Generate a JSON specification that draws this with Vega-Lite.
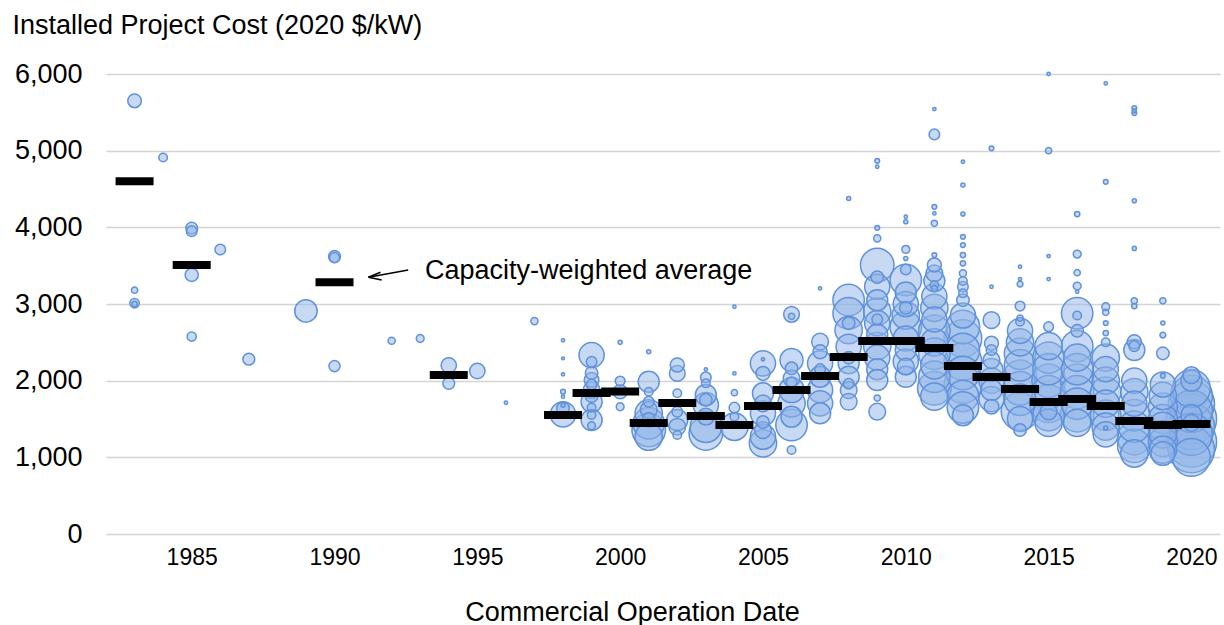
{
"$schema": "https://vega.github.io/schema/vega-lite/v6.json",
"width": 1114,
"height": 460,
"autosize": "none",
"padding": {"left": 106, "top": 74, "right": 4, "bottom": 91},
"background": "white",
"config": {"view": {"stroke": null}, "font": "Liberation Sans"},
"datasets": {
"projects": [
{"year":1983,"cost":5650,"mw":33},{"year":1983,"cost":3180,"mw":7},{"year":1983,"cost":3010,"mw":16},{"year":1983,"cost":3000,"mw":5},
{"year":1984,"cost":4910,"mw":13},
{"year":1985,"cost":3990,"mw":24},{"year":1985,"cost":3950,"mw":20},{"year":1985,"cost":3380,"mw":31},{"year":1985,"cost":2575,"mw":15},
{"year":1986,"cost":3710,"mw":20},
{"year":1987,"cost":2280,"mw":25},
{"year":1989,"cost":2910,"mw":90},
{"year":1990,"cost":3620,"mw":25},{"year":1990,"cost":3605,"mw":18},{"year":1990,"cost":2190,"mw":22},
{"year":1992,"cost":2520,"mw":9},
{"year":1993,"cost":2550,"mw":11},
{"year":1994,"cost":2200,"mw":42},{"year":1994,"cost":1965,"mw":25},
{"year":1995,"cost":2126,"mw":42},
{"year":1996,"cost":1712,"mw":2},
{"year":1997,"cost":2777,"mw":9},
{"year":1998,"cost":2526,"mw":2},{"year":1998,"cost":2291,"mw":1.5},{"year":1998,"cost":2083,"mw":2},{"year":1998,"cost":1856,"mw":4},{"year":1998,"cost":1791,"mw":2},{"year":1998,"cost":1680,"mw":3},{"year":1998,"cost":1640,"mw":28},{"year":1998,"cost":1560,"mw":113},
{"year":1999,"cost":2334,"mw":113},{"year":1999,"cost":2247,"mw":20},{"year":1999,"cost":2100,"mw":28},{"year":1999,"cost":2010,"mw":38},{"year":1999,"cost":1950,"mw":20},{"year":1999,"cost":1878,"mw":50},{"year":1999,"cost":1800,"mw":28},{"year":1999,"cost":1725,"mw":79},{"year":1999,"cost":1650,"mw":13},{"year":1999,"cost":1552,"mw":13},{"year":1999,"cost":1487,"mw":79},{"year":1999,"cost":1412,"mw":11},
{"year":2000,"cost":2500,"mw":3},{"year":2000,"cost":1995,"mw":17},{"year":2000,"cost":1856,"mw":35},{"year":2000,"cost":1660,"mw":11},
{"year":2001,"cost":2377,"mw":3},{"year":2001,"cost":1986,"mw":79},{"year":2001,"cost":1856,"mw":13},{"year":2001,"cost":1725,"mw":20},{"year":2001,"cost":1620,"mw":50},{"year":2001,"cost":1574,"mw":133},{"year":2001,"cost":1500,"mw":28},{"year":2001,"cost":1444,"mw":177},{"year":2001,"cost":1356,"mw":201},{"year":2001,"cost":1269,"mw":133},
{"year":2002,"cost":2204,"mw":35},{"year":2002,"cost":2095,"mw":44},{"year":2002,"cost":1835,"mw":13},{"year":2002,"cost":1595,"mw":20},{"year":2002,"cost":1487,"mw":79},{"year":2002,"cost":1399,"mw":50},{"year":2002,"cost":1291,"mw":13},
{"year":2003,"cost":2148,"mw":2},{"year":2003,"cost":2043,"mw":20},{"year":2003,"cost":1965,"mw":13},{"year":2003,"cost":1813,"mw":79},{"year":2003,"cost":1750,"mw":28},{"year":2003,"cost":1682,"mw":113},{"year":2003,"cost":1530,"mw":50},{"year":2003,"cost":1399,"mw":177},{"year":2003,"cost":1312,"mw":201},
{"year":2004,"cost":2964,"mw":2},{"year":2004,"cost":2095,"mw":2},{"year":2004,"cost":1843,"mw":7},{"year":2004,"cost":1648,"mw":20},{"year":2004,"cost":1530,"mw":13},{"year":2004,"cost":1399,"mw":133},
{"year":2005,"cost":2278,"mw":2},{"year":2005,"cost":2226,"mw":113},{"year":2005,"cost":2095,"mw":35},{"year":2005,"cost":1835,"mw":79},{"year":2005,"cost":1704,"mw":50},{"year":2005,"cost":1574,"mw":113},{"year":2005,"cost":1460,"mw":28},{"year":2005,"cost":1356,"mw":50},{"year":2005,"cost":1269,"mw":113},{"year":2005,"cost":1182,"mw":133},
{"year":2006,"cost":2865,"mw":44},{"year":2006,"cost":2840,"mw":7},{"year":2006,"cost":2269,"mw":95},{"year":2006,"cost":2161,"mw":28},{"year":2006,"cost":2030,"mw":50},{"year":2006,"cost":1980,"mw":20},{"year":2006,"cost":1878,"mw":113},{"year":2006,"cost":1704,"mw":133},{"year":2006,"cost":1530,"mw":79},{"year":2006,"cost":1421,"mw":177},{"year":2006,"cost":1095,"mw":13},
{"year":2007,"cost":3204,"mw":2},{"year":2007,"cost":2508,"mw":50},{"year":2007,"cost":2377,"mw":35},{"year":2007,"cost":2226,"mw":113},{"year":2007,"cost":2150,"mw":20},{"year":2007,"cost":2052,"mw":79},{"year":2007,"cost":1878,"mw":113},{"year":2007,"cost":1704,"mw":113},{"year":2007,"cost":1574,"mw":79},
{"year":2008,"cost":4377,"mw":3},{"year":2008,"cost":3051,"mw":177},{"year":2008,"cost":2878,"mw":177},{"year":2008,"cost":2750,"mw":28},{"year":2008,"cost":2660,"mw":133},{"year":2008,"cost":2443,"mw":113},{"year":2008,"cost":2300,"mw":28},{"year":2008,"cost":2226,"mw":79},{"year":2008,"cost":2052,"mw":79},{"year":2008,"cost":1960,"mw":20},{"year":2008,"cost":1878,"mw":50},{"year":2008,"cost":1725,"mw":50},
{"year":2009,"cost":4868,"mw":4},{"year":2009,"cost":4790,"mw":2},{"year":2009,"cost":3994,"mw":4},{"year":2009,"cost":3856,"mw":9},{"year":2009,"cost":3508,"mw":201},{"year":2009,"cost":3350,"mw":28},{"year":2009,"cost":3225,"mw":113},{"year":2009,"cost":3050,"mw":79},{"year":2009,"cost":2900,"mw":133},{"year":2009,"cost":2800,"mw":20},{"year":2009,"cost":2750,"mw":113},{"year":2009,"cost":2600,"mw":79},{"year":2009,"cost":2450,"mw":133},{"year":2009,"cost":2300,"mw":113},{"year":2009,"cost":2150,"mw":79},{"year":2009,"cost":2008,"mw":79},{"year":2009,"cost":1773,"mw":7},{"year":2009,"cost":1595,"mw":50},
{"year":2010,"cost":4138,"mw":2},{"year":2010,"cost":4073,"mw":3},{"year":2010,"cost":3712,"mw":11},{"year":2010,"cost":3594,"mw":3},{"year":2010,"cost":3450,"mw":20},{"year":2010,"cost":3312,"mw":177},{"year":2010,"cost":3150,"mw":79},{"year":2010,"cost":3000,"mw":113},{"year":2010,"cost":2950,"mw":28},{"year":2010,"cost":2850,"mw":133},{"year":2010,"cost":2700,"mw":177},{"year":2010,"cost":2550,"mw":113},{"year":2010,"cost":2400,"mw":79},{"year":2010,"cost":2250,"mw":113},{"year":2010,"cost":2182,"mw":50},{"year":2010,"cost":2050,"mw":79},
{"year":2011,"cost":5542,"mw":2},{"year":2011,"cost":5212,"mw":20},{"year":2011,"cost":4268,"mw":4},{"year":2011,"cost":4182,"mw":2},{"year":2011,"cost":4052,"mw":7},{"year":2011,"cost":3638,"mw":4},{"year":2011,"cost":3508,"mw":35},{"year":2011,"cost":3400,"mw":50},{"year":2011,"cost":3300,"mw":79},{"year":2011,"cost":3247,"mw":13},{"year":2011,"cost":3200,"mw":7},{"year":2011,"cost":3100,"mw":113},{"year":2011,"cost":2950,"mw":133},{"year":2011,"cost":2800,"mw":113},{"year":2011,"cost":2650,"mw":177},{"year":2011,"cost":2500,"mw":133},{"year":2011,"cost":2350,"mw":177},{"year":2011,"cost":2200,"mw":133},{"year":2011,"cost":2050,"mw":177},{"year":2011,"cost":1900,"mw":201},{"year":2011,"cost":1791,"mw":133},
{"year":2012,"cost":4855,"mw":2},{"year":2012,"cost":4551,"mw":3},{"year":2012,"cost":4173,"mw":3},{"year":2012,"cost":3877,"mw":4},{"year":2012,"cost":3769,"mw":4},{"year":2012,"cost":3638,"mw":5},{"year":2012,"cost":3530,"mw":5},{"year":2012,"cost":3400,"mw":9},{"year":2012,"cost":3300,"mw":13},{"year":2012,"cost":3225,"mw":20},{"year":2012,"cost":3139,"mw":13},{"year":2012,"cost":3050,"mw":28},{"year":2012,"cost":2850,"mw":113},{"year":2012,"cost":2700,"mw":201},{"year":2012,"cost":2550,"mw":254},{"year":2012,"cost":2400,"mw":201},{"year":2012,"cost":2250,"mw":254},{"year":2012,"cost":2100,"mw":201},{"year":2012,"cost":1950,"mw":254},{"year":2012,"cost":1800,"mw":177},{"year":2012,"cost":1650,"mw":177},{"year":2012,"cost":1550,"mw":79},
{"year":2013,"cost":5030,"mw":4},{"year":2013,"cost":3225,"mw":2},{"year":2013,"cost":2791,"mw":50},{"year":2013,"cost":2487,"mw":35},{"year":2013,"cost":2400,"mw":20},{"year":2013,"cost":2269,"mw":50},{"year":2013,"cost":2139,"mw":95},{"year":2013,"cost":2000,"mw":113},{"year":2013,"cost":1878,"mw":79},{"year":2013,"cost":1760,"mw":113},{"year":2013,"cost":1660,"mw":38},
{"year":2014,"cost":3486,"mw":2},{"year":2014,"cost":3325,"mw":2},{"year":2014,"cost":3260,"mw":6},{"year":2014,"cost":2973,"mw":17},{"year":2014,"cost":2817,"mw":7},{"year":2014,"cost":2769,"mw":13},{"year":2014,"cost":2650,"mw":113},{"year":2014,"cost":2500,"mw":133},{"year":2014,"cost":2350,"mw":177},{"year":2014,"cost":2200,"mw":177},{"year":2014,"cost":2050,"mw":201},{"year":2014,"cost":1900,"mw":201},{"year":2014,"cost":1750,"mw":177},{"year":2014,"cost":1600,"mw":254},{"year":2014,"cost":1500,"mw":113},{"year":2014,"cost":1356,"mw":28},
{"year":2015,"cost":6000,"mw":2},{"year":2015,"cost":4999,"mw":7},{"year":2015,"cost":3625,"mw":2},{"year":2015,"cost":3325,"mw":2},{"year":2015,"cost":2704,"mw":17},{"year":2015,"cost":2450,"mw":133},{"year":2015,"cost":2300,"mw":177},{"year":2015,"cost":2150,"mw":177},{"year":2015,"cost":2000,"mw":201},{"year":2015,"cost":1850,"mw":201},{"year":2015,"cost":1700,"mw":254},{"year":2015,"cost":1600,"mw":50},{"year":2015,"cost":1550,"mw":177},{"year":2015,"cost":1450,"mw":133},
{"year":2016,"cost":4173,"mw":5},{"year":2016,"cost":3651,"mw":11},{"year":2016,"cost":3408,"mw":7},{"year":2016,"cost":3234,"mw":11},{"year":2016,"cost":3160,"mw":2},{"year":2016,"cost":2878,"mw":177},{"year":2016,"cost":2850,"mw":13},{"year":2016,"cost":2650,"mw":28},{"year":2016,"cost":2450,"mw":177},{"year":2016,"cost":2300,"mw":133},{"year":2016,"cost":2150,"mw":177},{"year":2016,"cost":2000,"mw":201},{"year":2016,"cost":1850,"mw":201},{"year":2016,"cost":1700,"mw":177},{"year":2016,"cost":1550,"mw":201},{"year":2016,"cost":1450,"mw":133},
{"year":2017,"cost":5877,"mw":2},{"year":2017,"cost":4594,"mw":4},{"year":2017,"cost":2964,"mw":11},{"year":2017,"cost":2891,"mw":7},{"year":2017,"cost":2752,"mw":4},{"year":2017,"cost":2621,"mw":5},{"year":2017,"cost":2500,"mw":13},{"year":2017,"cost":2300,"mw":133},{"year":2017,"cost":2150,"mw":113},{"year":2017,"cost":2000,"mw":133},{"year":2017,"cost":1850,"mw":165},{"year":2017,"cost":1700,"mw":133},{"year":2017,"cost":1550,"mw":165},{"year":2017,"cost":1400,"mw":133},{"year":2017,"cost":1382,"mw":3},{"year":2017,"cost":1300,"mw":113},
{"year":2018,"cost":5555,"mw":4},{"year":2018,"cost":5520,"mw":3},{"year":2018,"cost":5490,"mw":4},{"year":2018,"cost":4346,"mw":3},{"year":2018,"cost":3725,"mw":3},{"year":2018,"cost":3042,"mw":7},{"year":2018,"cost":2973,"mw":5},{"year":2018,"cost":2508,"mw":35},{"year":2018,"cost":2450,"mw":20},{"year":2018,"cost":2400,"mw":79},{"year":2018,"cost":2000,"mw":113},{"year":2018,"cost":1850,"mw":133},{"year":2018,"cost":1700,"mw":113},{"year":2018,"cost":1550,"mw":177},{"year":2018,"cost":1400,"mw":177},{"year":2018,"cost":1250,"mw":201},{"year":2018,"cost":1150,"mw":201},{"year":2018,"cost":1050,"mw":133},
{"year":2019,"cost":3042,"mw":7},{"year":2019,"cost":2752,"mw":3},{"year":2019,"cost":2595,"mw":6},{"year":2019,"cost":2356,"mw":28},{"year":2019,"cost":2065,"mw":4},{"year":2019,"cost":1950,"mw":113},{"year":2019,"cost":1800,"mw":133},{"year":2019,"cost":1650,"mw":150},{"year":2019,"cost":1500,"mw":150},{"year":2019,"cost":1400,"mw":150},{"year":2019,"cost":1300,"mw":133},{"year":2019,"cost":1200,"mw":150},{"year":2019,"cost":1100,"mw":133},{"year":2019,"cost":1050,"mw":100},
{"year":2020,"cost":2073,"mw":50},{"year":2020,"cost":2000,"mw":79},{"year":2020,"cost":1900,"mw":254},{"year":2020,"cost":1800,"mw":314},{"year":2020,"cost":1700,"mw":380},{"year":2020,"cost":1600,"mw":314},{"year":2020,"cost":1550,"mw":79},{"year":2020,"cost":1500,"mw":452},{"year":2020,"cost":1450,"mw":50},{"year":2020,"cost":1400,"mw":380},{"year":2020,"cost":1300,"mw":314},{"year":2020,"cost":1200,"mw":452},{"year":2020,"cost":1100,"mw":380},{"year":2020,"cost":1000,"mw":254}
],
"avg": [
{"year":1983,"cost":4600},{"year":1985,"cost":3510},{"year":1990,"cost":3285},{"year":1994,"cost":2073},{"year":1998,"cost":1552},{"year":1999,"cost":1839},{"year":2000,"cost":1860},{"year":2001,"cost":1447},{"year":2002,"cost":1708},{"year":2003,"cost":1539},{"year":2004,"cost":1421},{"year":2005,"cost":1669},{"year":2006,"cost":1878},{"year":2007,"cost":2060},{"year":2008,"cost":2308},{"year":2009,"cost":2517},{"year":2010,"cost":2517},{"year":2011,"cost":2425},{"year":2012,"cost":2190},{"year":2013,"cost":2047},{"year":2014,"cost":1891},{"year":2015,"cost":1721},{"year":2016,"cost":1760},{"year":2017,"cost":1669},{"year":2018,"cost":1473},{"year":2019,"cost":1421},{"year":2020,"cost":1434}
],
"note": [
{"year":1993.17,"cost":3326,"label":"Capacity-weighted average"}
],
"arrow": [
{"year":1991.19,"cost":3348,"year2":1992.58,"cost2":3443},
{"year":1991.19,"cost":3348,"year2":1991.61,"cost2":3413},
{"year":1991.19,"cost":3348,"year2":1991.65,"cost2":3313}
]
},
"encoding": {
"x": {"field": "year", "type": "quantitative", "scale": {"domain": [1982, 2021], "nice": false, "zero": false},
"axis": {"values": [1985, 1990, 1995, 2000, 2005, 2010, 2015, 2020], "format": "d", "grid": false, "domain": false, "ticks": false, "tickSize": 0,
"labelFontSize": 23, "labelPadding": 12, "labelColor": "#000000", "labelFont": "Liberation Sans",
"title": "Commercial Operation Date", "titleFontSize": 27, "titleFontWeight": "normal", "titleColor": "#000000", "titleFont": "Liberation Sans",
"titleX": 526, "titleY": 86, "titleBaseline": "alphabetic", "titleAlign": "center"}},
"y": {"field": "cost", "type": "quantitative", "scale": {"domain": [0, 6000], "nice": false},
"axis": {"values": [0, 1000, 2000, 3000, 4000, 5000, 6000], "format": ",d", "grid": true, "gridColor": "#d4d4d4", "gridWidth": 1.5, "domain": false, "ticks": false, "tickSize": 0,
"labelFontSize": 27, "labelPadding": 24, "labelColor": "#000000", "labelFont": "Liberation Sans",
"title": "Installed Project Cost (2020 $/kW)", "titleAngle": 0, "titleAlign": "left", "titleBaseline": "alphabetic", "titleX": -94, "titleY": -41,
"titleFontSize": 27, "titleFontWeight": "normal", "titleColor": "#000000", "titleFont": "Liberation Sans"}}
},
"layer": [
{
"data": {"name": "projects"},
"mark": {"type": "circle", "fill": "#8fb4e8", "fillOpacity": 0.5, "stroke": "#5f92db", "strokeWidth": 1.5, "opacity": 1},
"encoding": {
"size": {"field": "mw", "type": "quantitative", "scale": {"domain": [0, 500], "range": [0, 2800]}, "legend": null},
"order": {"field": "mw", "type": "quantitative", "sort": "descending"}
}
},
{
"data": {"name": "avg"},
"mark": {"type": "tick", "orient": "horizontal", "size": 38, "thickness": 8, "color": "#000000", "opacity": 1}
},
{
"data": {"name": "arrow"},
"mark": {"type": "rule", "color": "#000000", "strokeWidth": 1.6},
"encoding": {
"x2": {"field": "year2"},
"y2": {"field": "cost2"}
}
},
{
"data": {"name": "note"},
"mark": {"type": "text", "align": "left", "baseline": "alphabetic", "fontSize": 27, "font": "Liberation Sans", "color": "#000000"},
"encoding": {
"text": {"field": "label"}
}
}
]
}
